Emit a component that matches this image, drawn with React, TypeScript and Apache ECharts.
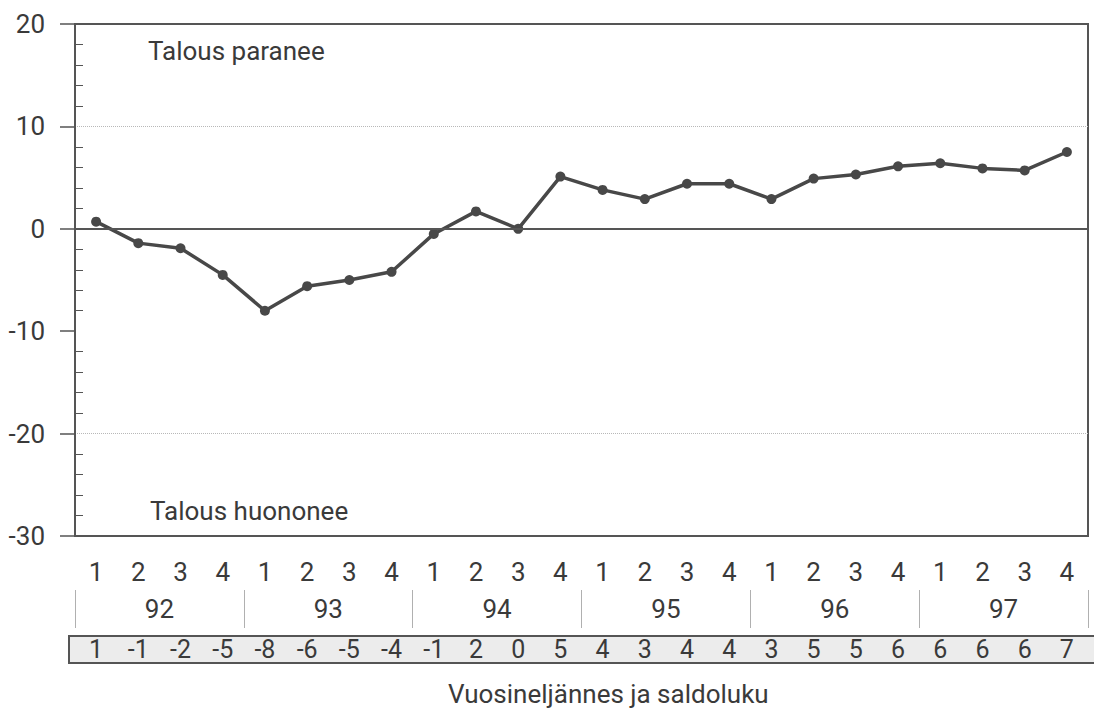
import React, { useEffect, useRef } from "react";
import * as echarts from "echarts";

const categories = [
  "92/1", "92/2", "92/3", "92/4", "93/1", "93/2", "93/3", "93/4",
  "94/1", "94/2", "94/3", "94/4", "95/1", "95/2", "95/3", "95/4",
  "96/1", "96/2", "96/3", "96/4", "97/1", "97/2", "97/3", "97/4",
];
const quarterLabels = [
  "1", "2", "3", "4", "1", "2", "3", "4", "1", "2", "3", "4",
  "1", "2", "3", "4", "1", "2", "3", "4", "1", "2", "3", "4",
];
const years = ["92", "93", "94", "95", "96", "97"];
const values = [
  0.7, -1.4, -1.9, -4.5, -8.0, -5.6, -5.0, -4.2,
  -0.5, 1.7, 0.0, 5.1, 3.8, 2.9, 4.4, 4.4,
  2.9, 4.9, 5.3, 6.1, 6.4, 5.9, 5.7, 7.5,
];
const saldo = [
  1, -1, -2, -5, -8, -6, -5, -4, -1, 2, 0, 5,
  4, 3, 4, 4, 3, 5, 5, 6, 6, 6, 6, 7,
];
const yTicks = { min: -30, max: 20, interval: 10 };

const FONT = "Roboto, 'Liberation Sans Narrow', sans-serif";
const TXT = "#3a3a3a";
const LINE = "#484848";
const FS = 26;

export default function App() {
  const ref = useRef<HTMLDivElement>(null);
  useEffect(() => {
    if (!ref.current) return;
    const chart = echarts.init(ref.current, undefined, { renderer: "svg" });
    chart.setOption({
      animation: false,
      backgroundColor: "#ffffff",
      textStyle: { fontFamily: FONT, color: TXT },
      grid: {
        left: 75,
        right: 6,
        top: 24,
        bottom: 184,
        show: true,
        borderColor: "#555",
        borderWidth: 2,
        containLabel: false,
      },
      xAxis: [
        {
          type: "category",
          data: categories,
          position: "bottom",
          boundaryGap: true,
          axisLine: { show: false, onZero: false },
          axisTick: { show: false },
          axisLabel: {
            interval: 0,
            margin: 23,
            fontSize: FS,
            color: TXT,
            fontFamily: FONT,
            formatter: (_v: string, i: number) => quarterLabels[i],
          },
          splitLine: { show: false },
        },
        {
          type: "category",
          data: years,
          position: "bottom",
          offset: 54,
          boundaryGap: true,
          axisLine: { show: false, onZero: false },
          axisTick: { show: true, length: 38, interval: 0, lineStyle: { color: "#b0b0b0", width: 1 } },
          axisLabel: { interval: 0, margin: 6, fontSize: FS, color: TXT, fontFamily: FONT },
          splitLine: { show: false },
        },
        {
          type: "category",
          data: categories,
          position: "bottom",
          offset: 100,
          boundaryGap: true,
          axisLine: { show: false, onZero: false },
          axisTick: { show: false },
          axisLabel: {
            interval: 0,
            margin: 1,
            fontSize: 25,
            color: TXT,
            fontFamily: FONT,
            formatter: (_v: string, i: number) => String(saldo[i]),
          },
          splitLine: { show: false },
        },
      ],
      yAxis: [
        {
          type: "value",
          min: yTicks.min,
          max: yTicks.max,
          interval: yTicks.interval,
          axisLine: { show: true, lineStyle: { color: "#555", width: 2 } },
          axisTick: { show: true, length: 15, lineStyle: { color: "#555", width: 1.5 } },
          axisLabel: { margin: 30, fontSize: FS, color: TXT, fontFamily: FONT },
          splitLine: {
            show: true,
            lineStyle: {
              type: "dotted",
              width: 1,
              color: ["transparent", "#b8b8b8", "transparent", "transparent", "#b8b8b8", "transparent"],
            },
          },
        },
        {
          type: "value",
          min: yTicks.min,
          max: yTicks.max,
          interval: yTicks.interval,
          position: "left",
          axisLine: { show: false },
          axisTick: { show: false, inside: true },
          minorTick: { show: true, splitNumber: 5, length: 8, lineStyle: { color: "#555", width: 1 } },
          axisLabel: { show: false },
          splitLine: { show: false },
        },
      ],
      graphic: [
        {
          type: "rect",
          z: -10,
          shape: { x: 69, y: 636, width: 1040, height: 27 },
          style: { fill: "#ececec", stroke: "#555", lineWidth: 2 },
        },
        {
          type: "text",
          left: 148,
          top: 38,
          style: { text: "Talous paranee", fontSize: FS, fontFamily: FONT, fill: TXT },
        },
        {
          type: "text",
          left: 150,
          top: 498,
          style: { text: "Talous huononee", fontSize: FS, fontFamily: FONT, fill: TXT },
        },
        {
          type: "text",
          left: 448,
          top: 681,
          style: { text: "Vuosineljännes ja saldoluku", fontSize: FS, fontFamily: FONT, fill: TXT },
        },
      ],
      series: [
        {
          type: "line",
          xAxisIndex: 0,
          yAxisIndex: 0,
          data: values,
          symbol: "circle",
          symbolSize: 10,
          itemStyle: { color: LINE },
          lineStyle: { color: LINE, width: 3.5 },
          markLine: {
            silent: true,
            symbol: "none",
            label: { show: false },
            lineStyle: { color: "#555", width: 2, type: "solid" },
            data: [{ yAxis: 0 }],
          },
        },
      ],
    });
    return () => chart.dispose();
  }, []);
  return (
    <div
      ref={ref}
      style={{ position: "fixed", left: 0, top: 0, width: 1094, height: 720, background: "#fff" }}
    />
  );
}
